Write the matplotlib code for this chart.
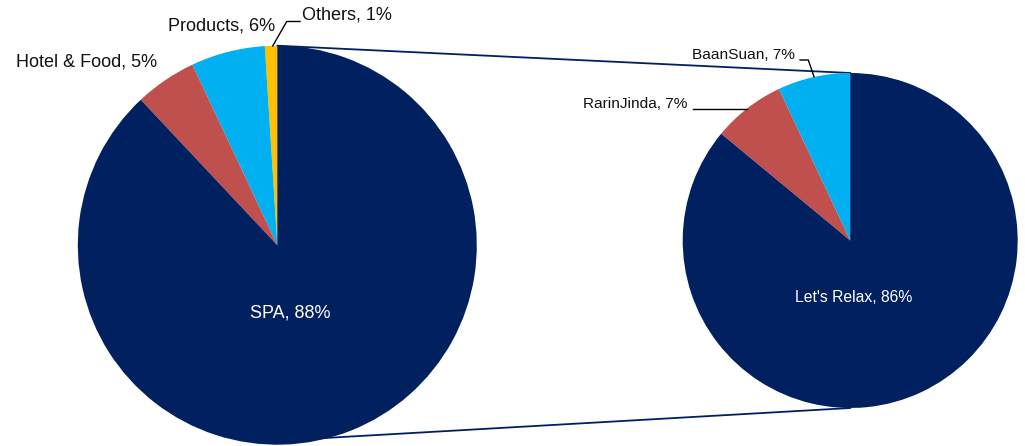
import matplotlib
matplotlib.use("Agg")
import matplotlib.pyplot as plt

# ---- data ----
left_labels = ['Others', 'Products', 'Hotel & Food', 'SPA']
left_values = [1, 6, 5, 88]
right_labels = ['BaanSuan', 'RarinJinda', "Let's Relax"]
right_values = [7, 7, 86]

left_colors = ['#FFC000', '#00B0F0', '#C0504D', '#002060']
right_colors = ['#00B0F0', '#C0504D', '#002060']
navy = '#002060'

W, H = 1025, 446
plt.rcParams['font.family'] = ['Liberation Sans', 'DejaVu Sans']

fig = plt.figure(figsize=(W / 100, H / 100), dpi=100)
ax = fig.add_axes([0, 0, 1, 1])


def P(x, y):
    """pixel coords (origin top-left) -> data coords"""
    return x, H - y


# pie geometry (pixels)
lcx, lcy, lr = 277.3, 245.2, 199.5
rcx, rcy, rr = 850.2, 240.5, 167.5

ax.pie(left_values, startangle=90, counterclock=True, colors=left_colors,
       center=P(lcx, lcy), radius=lr, frame=True,
       wedgeprops=dict(linewidth=0))
ax.pie(right_values, startangle=90, counterclock=True, colors=right_colors,
       center=P(rcx, rcy), radius=rr, frame=True,
       wedgeprops=dict(linewidth=0))

# connector lines (below pies)
x1, y1 = P(lcx, lcy - lr)
x2, y2 = P(rcx, rcy - rr)
ax.plot([x1, x2], [y1, y2], color=navy, lw=1.3, zorder=0)
x1, y1 = P(lcx, lcy + lr * 0.98)
x2, y2 = P(rcx, rcy + rr)
ax.plot([x1, x2], [y1, y2], color=navy, lw=1.3, zorder=0)

txt = '#111111'
# left labels
ax.text(*P(290, 313), f'{left_labels[3]}, {left_values[3]}%', color='white',
        fontsize=13, ha='center', va='center')
ax.text(*P(87, 62), f'{left_labels[2]}, {left_values[2]}%', color=txt,
        fontsize=13, ha='center', va='center')
ax.text(*P(222, 26), f'{left_labels[1]}, {left_values[1]}%', color=txt,
        fontsize=13, ha='center', va='center')
ax.text(*P(302, 15), f'{left_labels[0]}, {left_values[0]}%', color=txt,
        fontsize=13, ha='left', va='center')
lx, ly = zip(P(272.7, 46), P(286.7, 21.5), P(300, 21.5))
ax.plot(lx, ly, color='black', lw=1.0)

# right labels
ax.text(*P(854, 297), f'{right_labels[2]}, {right_values[2]}%', color='white',
        fontsize=11.3, ha='center', va='center')
ax.text(*P(743, 55), f'{right_labels[0]}, {right_values[0]}%', color=txt,
        fontsize=11.1, ha='center', va='center')
ax.text(*P(635.5, 103.5), f'{right_labels[1]}, {right_values[1]}%', color=txt,
        fontsize=11.1, ha='center', va='center')
lx, ly = zip(P(800, 60), P(808.3, 60), P(814, 76.7))
ax.plot(lx, ly, color='black', lw=1.0)
lx, ly = zip(P(693, 109.3), P(747, 109.3))
ax.plot(lx, ly, color='black', lw=1.0)

ax.set_xlim(0, W)
ax.set_ylim(0, H)
ax.axis('off')

fig.savefig('out.png', dpi=100)
